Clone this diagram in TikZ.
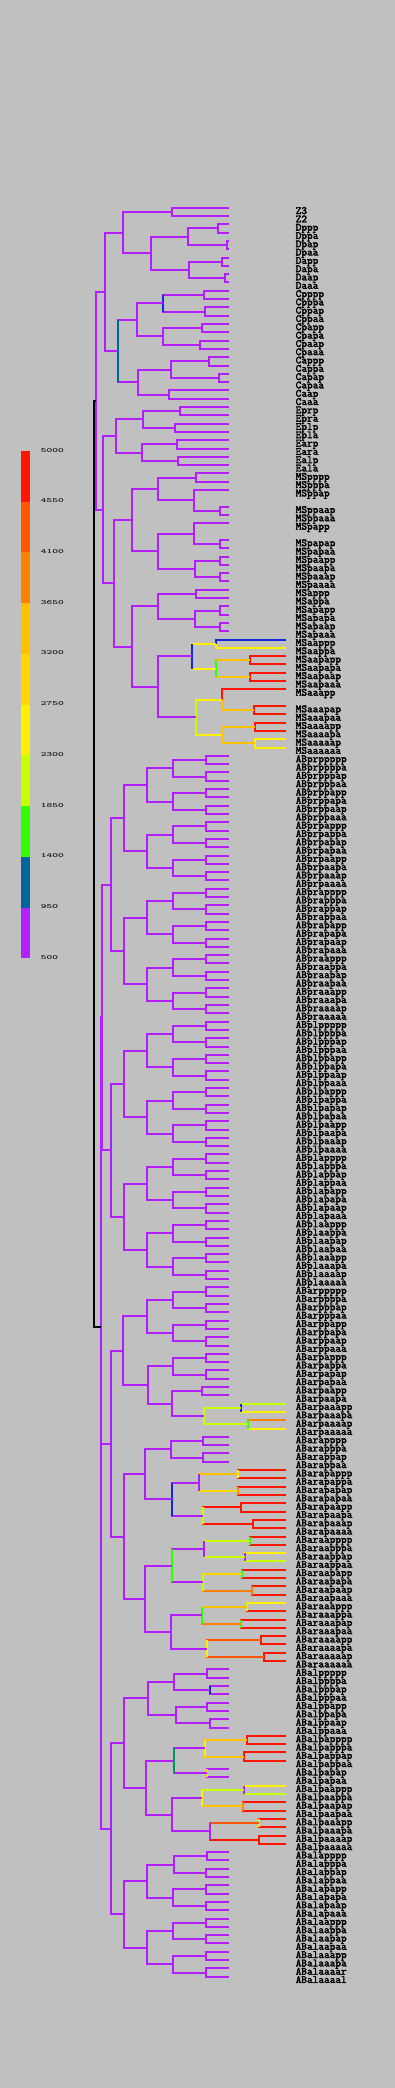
\documentclass[tikz,border=0pt]{standalone}
\usepackage{graphicx}
\usetikzlibrary{calc}
\definecolor{bg}{RGB}{192,192,192}
\definecolor{pu}{RGB}{178,30,255}
\definecolor{kA}{RGB}{180,32,255}
\definecolor{kB}{RGB}{0,100,158}
\definecolor{kb}{RGB}{20,40,220}
\definecolor{kt}{RGB}{0,150,90}
\definecolor{kC}{RGB}{48,255,0}
\definecolor{kD}{RGB}{200,255,0}
\definecolor{kE}{RGB}{255,240,0}
\definecolor{kF}{RGB}{255,214,0}
\definecolor{kG}{RGB}{255,192,0}
\definecolor{kH}{RGB}{255,128,0}
\definecolor{kI}{RGB}{255,85,0}
\definecolor{kJ}{RGB}{255,20,0}
\newcommand\labfont{\fontsize{11}{11}\selectfont\ttfamily}
\newcommand\heavy[1]{\special{pdf:literal direct 2 Tr 0.3 w}#1\special{pdf:literal direct 0 Tr}}
\newcount\rowc
\long\def\myfirst#1#2{#1}
\long\def\mysecond#1#2{#2}
\newcommand\colof[1]{\ifcsname C#1\endcsname\csname C#1\endcsname\else pu\fi}
\newcommand\tailcol[1]{\ifcsname E#1\endcsname\csname E#1\endcsname\else kJ\fi}
\newcommand\mkleaf[2]{\coordinate (#1) at (#2,{207.7+8.305*\the\rowc});\node[lab] (t#1) at (295.5,{214+8.305*\the\rowc}) {\heavy{#1}};\global\advance\rowc by 1\relax}
\newcommand\skiprow{\global\advance\rowc by 1\relax}
\newcommand\seg[4]{\draw[br,draw=#4] let \p1=(#1) in (#2pt,\y1) -- (#3pt,\y1);}
\newcommand\vseg[4]{\draw[br,draw=#4] let \p1=(#1),\p2=(#2),\p3=(#3) in (\x1,\y2) -- (\x1,\y3);}
\newcommand\vcheck[3]{\ifcsname V#1\endcsname\expandafter\myfirst\else\expandafter\mysecond\fi{\edef\cV{\csname V#1\endcsname}\vseg{#1}{#2}{#3}{\cV}}{}}
\newcommand\mknode[4]{\path let \p1=(#2),\p2=(#3) in coordinate (#1) at (#4pt,{0.5*\y1+0.5*\y2});\edef\cA{\colof{#2}}\draw[br,draw=\cA] (#1) |- (#2);\edef\cA{\colof{#3}}\draw[br,draw=\cA] (#1) |- (#3);\vcheck{#1}{#2}{#3}}
\newcommand\mknodeT[4]{\path let \p1=(#2),\p2=(#3) in coordinate (#1) at (#4pt,{0.5*\y1+0.5*\y2});\edef\cA{\tailcol{#2}}\draw[br,draw=\cA] (#1) |- (#2);\edef\cA{\tailcol{#3}}\draw[br,draw=\cA] (#1) |- (#3);\vcheck{#1}{#2}{#3}}
\newcommand\setG[2]{\expandafter\def\csname G#1\endcsname{#2}}
\newcommand\setT[2]{\expandafter\def\csname T#1\endcsname{#2}}
\newcommand\setC[2]{\expandafter\gdef\csname C#1\endcsname{#2}}
\newcommand\setE[2]{\expandafter\gdef\csname E#1\endcsname{#2}}
\newcommand\setV[2]{\expandafter\gdef\csname V#1\endcsname{#2}}
\newcommand\setX[3]{\expandafter\def\csname X#1\endcsname{}\setT{#1}{#2}\setC{#1}{#3}}
\newcommand\gettm[2]{\ifcsname T#1\endcsname\edef\tmpx{\csname T#1\endcsname}\else\edef\tmpx{\csname G#2\endcsname}\fi}
\newcommand\bld[2]{\ifcsname RL#1\endcsname\expandafter\myfirst\else\expandafter\mysecond\fi{\bldk{#1}{#2}{r}{l}}{\bldk{#1}{#2}{p}{a}}}
\newcommand\bldk[4]{\ifnum#2=0 \expandafter\myfirst\else\expandafter\mysecond\fi{\bldleaf{#1}}{\bld{#1#3}{\the\numexpr#2-1\relax}\bld{#1#4}{\the\numexpr#2-1\relax}\gettm{#1}{#2}\mknode{#1}{#1#3}{#1#4}{\tmpx}}}
\newcommand\bldleaf[1]{\ifcsname X#1\endcsname\expandafter\myfirst\else\expandafter\mysecond\fi{\mkleaf{#1p}{286}\mkleaf{#1a}{286}\gettm{#1}{x}\mknodeT{#1}{#1p}{#1a}{\tmpx}}{\mkleaf{#1}{229}}}
% generation division times (AB)
\setG{5}{111}\setG{4}{124}\setG{3}{146.5}\setG{2}{173}\setG{1}{206}\setG{x}{245}
\expandafter\def\csname RLABalaaaa\endcsname{}
% cells of the AB128 stage that divide again: name, time, colour
\setX{ABarpaaap}{241}{kD}\setX{ABarpaaaa}{247.7}{kD}
\setX{ABarapapp}{238.3}{kG}\setX{ABarapapa}{237.7}{kF}\setX{ABarapaap}{241}{kJ}\setX{ABarapaaa}{252.7}{kJ}
\setX{ABaraappp}{250}{kD}\setX{ABaraappa}{245}{kD}\setX{ABaraapap}{242.3}{kF}\setX{ABaraapaa}{252.3}{kH}
\setX{ABaraaapp}{246.7}{kG}\setX{ABaraaapa}{241}{kH}\setX{ABaraaaap}{260.7}{kI}\setX{ABaraaaaa}{264}{kI}
\setX{ABalpappp}{246.7}{kG}\setX{ABalpappa}{244}{kG}\setX{ABalpaapp}{244.3}{kD}\setX{ABalpaapa}{242.7}{kG}
\setX{ABalpaaap}{259}{kI}\setX{ABalpaaaa}{259}{kJ}
\setV{ABarpaaap}{kb}\setV{ABarpaaaa}{kC}\setV{ABarapapp}{kE}\setV{ABarapapa}{kH}
\setV{ABaraappp}{kC}\setV{ABaraappa}{pu}\setV{ABaraapap}{kC}\setV{ABaraapaa}{kH}
\setV{ABaraaapp}{kD}\setV{ABaraaapa}{kC}\setV{ABalpaapp}{pu}\setV{ABalpaapa}{kH}\setV{ABalpaaap}{kE}
\setV{ABarpaaa}{kD}\setV{ABarapap}{pu}\setV{ABarapaa}{kD}\setV{ABaraapp}{pu}\setV{ABaraapa}{kD}
\setV{ABaraaap}{kC}\setV{ABaraaaa}{kE}\setV{ABalpapp}{kE}\setV{ABalpaap}{kE}\setV{ABalpaaa}{pu}
\setV{ABarapa}{kb}\setV{ABaraap}{kC}\setV{ABalpap}{kt}\setV{ABalpapa}{kF}\setV{ABalpppa}{kb}
\setE{ABarpaaapp}{kD}\setE{ABarpaaapa}{kE}\setE{ABarpaaaap}{kH}\setE{ABarpaaaaa}{kE}
\setE{ABaraappap}{kE}\setE{ABaraappaa}{kD}\setE{ABaraaappp}{kE}
\setE{ABalpaappp}{kE}\setE{ABalpaappa}{kD}
% known division times in ABa
\setT{ABarp}{123}\setT{ABara}{124}\setT{ABalp}{124}\setT{ABarpa}{148}\setT{ABarpaa}{171.7}
\setT{ABarpaap}{201.7}\setT{ABarpaaa}{204}\setT{ABarap}{145}\setT{ABaraa}{145}
\setT{ABarapp}{171}\setT{ABarapa}{171.7}\setT{ABaraap}{171.7}\setT{ABaraaa}{171}
\setT{ABarappp}{203.3}\setT{ABarappa}{203}\setT{ABarapap}{199.3}\setT{ABarapaa}{202.7}
\setT{ABaraapp}{204}\setT{ABaraapa}{202.7}\setT{ABaraaap}{201.7}\setT{ABaraaaa}{207.3}
\setT{ABalpp}{147.7}\setT{ABalpa}{145.7}\setT{ABalppp}{174.3}\setT{ABalppa}{176}
\setT{ABalpap}{174}\setT{ABalpaa}{171.7}\setT{ABalpppp}{206.7}\setT{ABalpppa}{210}
\setT{ABalppap}{206.7}\setT{ABalppaa}{210}\setT{ABalpapp}{205}\setT{ABalpapa}{206.7}
\setT{ABalpaap}{201.7}\setT{ABalpaaa}{210}\setT{ABalapp}{174}\setT{ABalappp}{206.7}
% MS colours
\setC{MSaapp}{kE}\setC{MSaapa}{kE}\setC{MSaaap}{kE}\setC{MSaaaa}{kE}
\setC{MSaapap}{kG}\setC{MSaapaa}{kG}\setC{MSaaapa}{kG}\setC{MSaaaap}{kG}\setC{MSaaaaa}{kG}
\setC{MSaappp}{kb}\setC{MSaappa}{kE}\setC{MSaapapp}{kJ}\setC{MSaapapa}{kJ}\setC{MSaapaap}{kJ}
\setC{MSaapaaa}{kJ}\setC{MSaaapp}{kJ}\setC{MSaaapap}{kJ}\setC{MSaaapaa}{kJ}\setC{MSaaaapp}{kJ}
\setC{MSaaaapa}{kJ}\setC{MSaaaaap}{kE}\setC{MSaaaaaa}{kE}
\setV{MSaaa}{kD}\setV{MSaap}{kb}\setV{MSaapa}{kC}
\setV{C}{kB}\setV{Cpp}{kb}
\begin{document}
\begin{tikzpicture}[x=1pt,y=-1pt,
  br/.style={line width=2pt,draw=pu},
  lab/.style={anchor=base west,inner sep=0pt,font=\labfont},
  leg/.style={anchor=base west,inner sep=0pt}]
\fill[bg] (0,0) rectangle (395,2088);
\useasboundingbox (0,0) rectangle (395,2088);
% legend
\foreach \c [count=\i from 0] in {kJ,kI,kH,kG,kF,kE,kD,kC,kB,kA}
  \fill[\c] (21,{451+50.73*\i}) rectangle (30,{451+50.73*(\i+1)});
\foreach \v [count=\i from 0] in {5000,4550,4100,3650,3200,2750,2300,1850,1400,950,500}
  \node[leg] (v\i) at (40.7,{452+50.73*\i}) {\scalebox{1.35}[0.8]{\fontsize{8}{8}\selectfont\ttfamily\v}};
% leaves of P lineage, C, D, E, MS
\mkleaf{Z3}{229}\mkleaf{Z2}{229}
\mkleaf{Dppp}{229}\mkleaf{Dppa}{229}\mkleaf{Dpap}{229}\mkleaf{Dpaa}{229}
\mkleaf{Dapp}{229}\mkleaf{Dapa}{229}\mkleaf{Daap}{229}\mkleaf{Daaa}{229}
\mkleaf{Cpppp}{229}\mkleaf{Cpppa}{229}\mkleaf{Cppap}{229}\mkleaf{Cppaa}{229}
\mkleaf{Cpapp}{229}\mkleaf{Cpapa}{229}\mkleaf{Cpaap}{229}\mkleaf{Cpaaa}{229}
\mkleaf{Cappp}{229}\mkleaf{Cappa}{229}\mkleaf{Capap}{229}\mkleaf{Capaa}{229}
\mkleaf{Caap}{229}\mkleaf{Caaa}{229}
\mkleaf{Eprp}{229}\mkleaf{Epra}{229}\mkleaf{Eplp}{229}\mkleaf{Epla}{229}
\mkleaf{Earp}{229}\mkleaf{Eara}{229}\mkleaf{Ealp}{229}\mkleaf{Eala}{229}
\mkleaf{MSpppp}{229}\mkleaf{MSpppa}{229}\mkleaf{MSppap}{229}\skiprow
\mkleaf{MSppaap}{229}\mkleaf{MSppaaa}{229}\mkleaf{MSpapp}{229}\skiprow
\mkleaf{MSpapap}{229}\mkleaf{MSpapaa}{229}\mkleaf{MSpaapp}{229}\mkleaf{MSpaapa}{229}
\mkleaf{MSpaaap}{229}\mkleaf{MSpaaaa}{229}\mkleaf{MSappp}{229}\mkleaf{MSappa}{229}
\mkleaf{MSapapp}{229}\mkleaf{MSapapa}{229}\mkleaf{MSapaap}{229}\mkleaf{MSapaaa}{229}
\mkleaf{MSaappp}{286}\mkleaf{MSaappa}{286}\mkleaf{MSaapapp}{286}\mkleaf{MSaapapa}{286}
\mkleaf{MSaapaap}{286}\mkleaf{MSaapaaa}{286}\mkleaf{MSaaapp}{286}\skiprow
\mkleaf{MSaaapap}{286}\mkleaf{MSaaapaa}{286}\mkleaf{MSaaaapp}{286}\mkleaf{MSaaaapa}{286}
\mkleaf{MSaaaaap}{286}\mkleaf{MSaaaaaa}{286}
% AB lineage
\bld{ABpr}{5}\bld{ABpl}{5}\mknode{ABp}{ABpr}{ABpl}{101.5}
\bld{ABar}{5}\bld{ABal}{5}\mknode{ABa}{ABar}{ABal}{101}
\mknode{AB}{ABp}{ABa}{100.5}
% P lineage
\mknode{P4}{Z3}{Z2}{172}
\mknode{Dpp}{Dppp}{Dppa}{218}\mknode{Dpa}{Dpap}{Dpaa}{226.7}
\mknode{Dap}{Dapp}{Dapa}{222}\mknode{Daa}{Daap}{Daaa}{225}
\mknode{Dp}{Dpp}{Dpa}{187.7}\mknode{Da}{Dap}{Daa}{189}
\mknode{D}{Dp}{Da}{151}
\mknode{P3}{P4}{D}{123}
\mknode{Cppp}{Cpppp}{Cpppa}{204}\mknode{Cppa}{Cppap}{Cppaa}{205}
\mknode{Cpap}{Cpapp}{Cpapa}{201.7}\mknode{Cpaa}{Cpaap}{Cpaaa}{200}
\mknode{Cpp}{Cppp}{Cppa}{163.3}\mknode{Cpa}{Cpap}{Cpaa}{163.3}
\mknode{Cp}{Cpp}{Cpa}{136.7}
\mknode{Capp}{Cappp}{Cappa}{209}\mknode{Capa}{Capap}{Capaa}{218.7}
\mknode{Cap}{Capp}{Capa}{170.7}\mknode{Caa}{Caap}{Caaa}{169}
\mknode{Ca}{Cap}{Caa}{137.7}
\mknode{C}{Cp}{Ca}{118.3}
\mknode{P2}{P3}{C}{105}
\mknode{Epr}{Eprp}{Epra}{180}\mknode{Epl}{Eplp}{Epla}{175}
\mknode{Ep}{Epr}{Epl}{143.3}
\mknode{Ear}{Earp}{Eara}{176.7}\mknode{Eal}{Ealp}{Eala}{177.7}
\mknode{Ea}{Ear}{Eal}{142}
\mknode{E}{Ep}{Ea}{116}
\mknode{MSppp}{MSpppp}{MSpppa}{196}\mknode{MSppaa}{MSppaap}{MSppaaa}{220}
\mknode{MSppa}{MSppap}{MSppaa}{194}\mknode{MSpp}{MSppp}{MSppa}{158}
\mknode{MSpapa}{MSpapap}{MSpapaa}{220}\mknode{MSpap}{MSpapp}{MSpapa}{194}
\mknode{MSpaap}{MSpaapp}{MSpaapa}{220}\mknode{MSpaaa}{MSpaaap}{MSpaaaa}{220}
\mknode{MSpaa}{MSpaap}{MSpaaa}{195}\mknode{MSpa}{MSpap}{MSpaa}{158}
\mknode{MSp}{MSpp}{MSpa}{132}
\mknode{MSapp}{MSappp}{MSappa}{196}
\mknode{MSapap}{MSapapp}{MSapapa}{220}\mknode{MSapaa}{MSapaap}{MSapaaa}{220}
\mknode{MSapa}{MSapap}{MSapaa}{195}\mknode{MSap}{MSapp}{MSapa}{158}
\mknode{MSaapp}{MSaappp}{MSaappa}{216}
\mknode{MSaapap}{MSaapapp}{MSaapapa}{250}\mknode{MSaapaa}{MSaapaap}{MSaapaaa}{250}
\mknode{MSaapa}{MSaapap}{MSaapaa}{216}\mknode{MSaap}{MSaapp}{MSaapa}{192}
\mknode{MSaaapa}{MSaaapap}{MSaaapaa}{254}\mknode{MSaaap}{MSaaapp}{MSaaapa}{222}
\mknode{MSaaaap}{MSaaaapp}{MSaaaapa}{255}\mknode{MSaaaaa}{MSaaaaap}{MSaaaaaa}{255}
\mknode{MSaaaa}{MSaaaap}{MSaaaaa}{222}\mknode{MSaaa}{MSaaap}{MSaaaa}{196}
\mknode{MSaa}{MSaap}{MSaaa}{158}\mknode{MSa}{MSap}{MSaa}{132}
\mknode{MS}{MSp}{MSa}{114}
\mknode{EMS}{E}{MS}{102.7}
\mknode{P1}{P2}{EMS}{96.3}
\path let \p1=(P1),\p2=(AB) in coordinate (P0) at (94.3pt,{0.5*\y1+0.5*\y2});
\draw[br,draw=black] (P0) |- (P1);
\draw[br,draw=black] (P0) |- (AB);
\end{tikzpicture}
\end{document}
